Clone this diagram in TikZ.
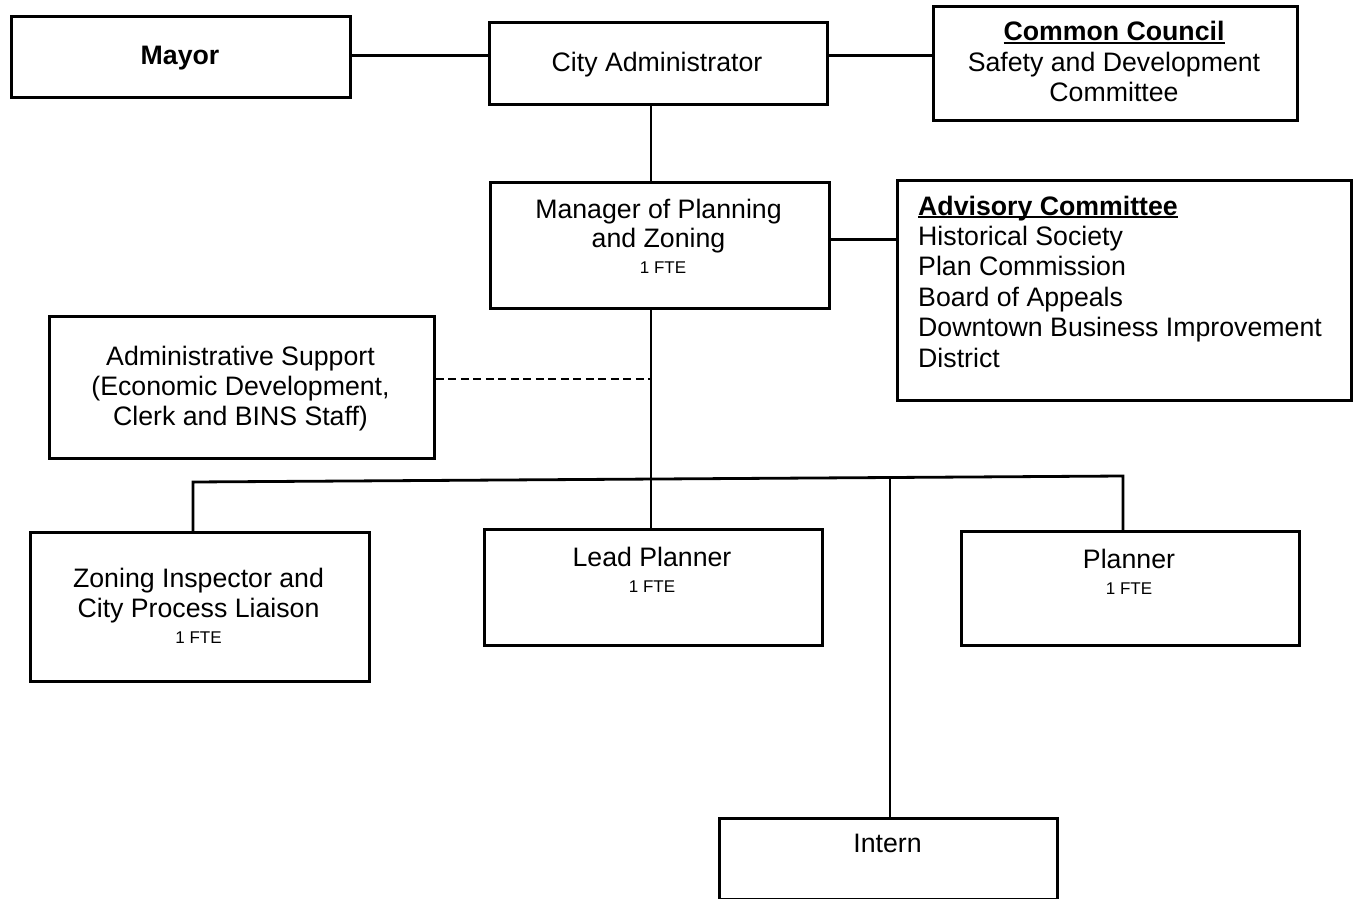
\documentclass[tikz,border=0pt]{standalone}
\usepackage{fontspec}
\setmainfont{Liberation Sans}
\newcommand{\myul}[1]{\setbox0\hbox{#1}\rlap{\rule[-3pt]{\wd0}{2pt}}\box0}
\begin{document}
\begin{tikzpicture}[x=1pt,y=-1pt,
  box/.style={draw=black, line width=2.8pt, rectangle, inner sep=0pt, anchor=north west},
  conn/.style={draw=black, line width=2.8pt},
  dconn/.style={draw=black, line width=2.8pt, dash pattern=on 8pt off 4.5pt},
  t/.style={anchor=base, inner sep=0pt, font=\fontsize{26.7pt}{30.5pt}\selectfont},
  tb/.style={t, font=\fontsize{26.7pt}{30.5pt}\selectfont\bfseries},
  tl/.style={t, anchor=base west},
  small/.style={anchor=base, inner sep=0pt, font=\fontsize{17pt}{20pt}\selectfont}]
\useasboundingbox (0,0) rectangle (1358,899);
% boxes
\node[box, minimum width=339pt, minimum height=81pt]  (mayor) at (10,15) {};
\node[box, minimum width=338pt, minimum height=82pt]  (ca)    at (488,21) {};
\node[box, minimum width=364pt, minimum height=114pt] (cc)    at (932,5) {};
\node[box, minimum width=339pt, minimum height=126pt] (mgr)   at (489,181) {};
\node[box, minimum width=454pt, minimum height=220pt] (adv)   at (896,179) {};
\node[box, minimum width=385pt, minimum height=142pt] (adm)   at (48,315) {};
\node[box, minimum width=339pt, minimum height=149pt] (zon)   at (29,531) {};
\node[box, minimum width=338pt, minimum height=116pt] (lead)  at (483,528) {};
\node[box, minimum width=338pt, minimum height=114pt] (pl)    at (960,530) {};
\node[box, minimum width=338pt, minimum height=81pt]  (intern) at (718,817) {};
% texts
\node[tb] (tMayor) at (180,65) {Mayor};
\node[t] (tCA) at (657,72) {City Administrator};
\node[tb] (tCC1) at (1114,41) {\myul{Common Council}};
\node[t] (tCC2) at (1114,71.5) {Safety and Development};
\node[t] (tCC3) at (1114,102) {Committee};
\node[t] (tM1) at (658.5,218) {Manager of Planning};
\node[t] (tM2) at (658.5,247) {and Zoning};
\node[small] (tM3) at (663,273) {1 FTE};
\node[tl, font=\fontsize{26.7pt}{30.5pt}\selectfont\bfseries] (tA1) at (918,215) {\myul{Advisory Committee}};
\node[tl] (tA2) at (918,245.5) {Historical Society};
\node[tl] (tA3) at (918,275.5) {Plan Commission};
\node[tl] (tA4) at (918,306) {Board of Appeals};
\node[tl] (tA5) at (918,336.5) {Downtown Business Improvement};
\node[tl] (tA6) at (918,367) {District};
\node[t] (tS1) at (240.5,365.5) {Administrative Support};
\node[t] (tS2) at (240.5,395.5) {(Economic Development,};
\node[t] (tS3) at (240.5,425.5) {Clerk and BINS Staff)};
\node[t] (tZ1) at (198.5,587) {Zoning Inspector and};
\node[t] (tZ2) at (198.5,617) {City Process Liaison};
\node[small] (tZ3) at (198.5,643) {1 FTE};
\node[t] (tL1) at (652,566.5) {Lead Planner};
\node[small] (tL2) at (652,592.5) {1 FTE};
\node[t] (tP1) at (1129,568.5) {Planner};
\node[small] (tP2) at (1129,594) {1 FTE};
\node[t] (tI) at (887.5,852.5) {Intern};
% connector coordinates
\coordinate (busL) at (193,482);
\coordinate (busR) at (1123,476);
\coordinate (busI) at (890,479);
\coordinate (dashR) at (651,379);
\coordinate (advY) at (828,239.5);
% connectors
\draw[conn] (mayor.east |- 0,55.5) -- (ca.west |- 0,55.5);
\draw[conn] (ca.east |- 0,55.5) -- (cc.west |- 0,55.5);
\draw[conn] (ca.south -| 651,0) -- (mgr.north -| 651,0);
\draw[conn] (mgr.south -| 651,0) -- (lead.north -| 651,0);
\draw[conn] (mgr.east |- advY) -- (adv.west |- advY);
\draw[dconn] (adm.east |- dashR) -- (dashR);
\draw[conn] (busL |- zon.north) -- (busL) -- (busR) -- (busR |- pl.north);
\draw[conn] (busI) -- (busI |- intern.north);
\end{tikzpicture}
\end{document}
